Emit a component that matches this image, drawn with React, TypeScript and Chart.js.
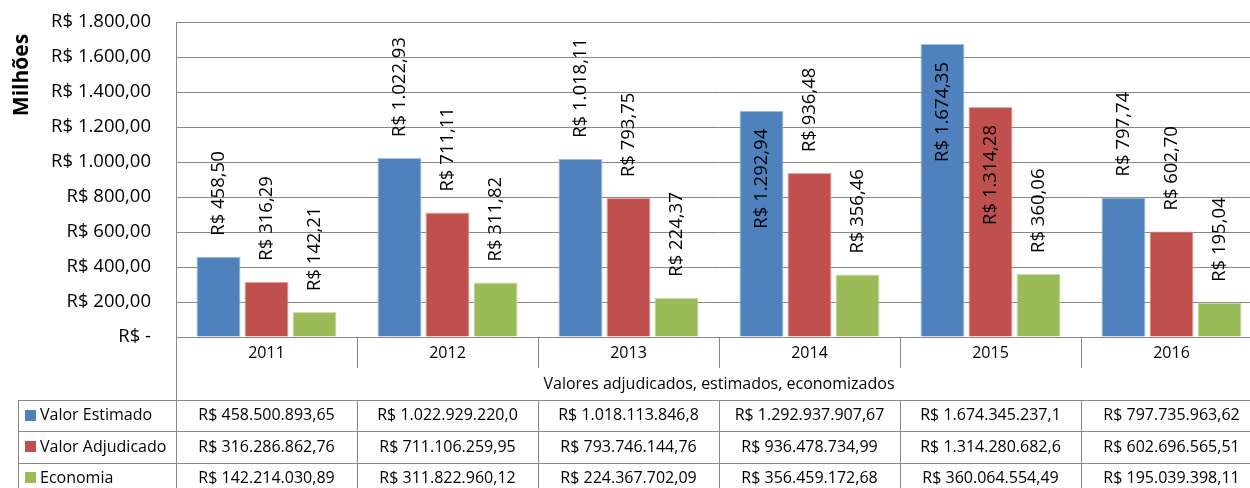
import React, { useEffect, useRef } from "react";
import { Chart, registerables } from "chart.js";

Chart.register(...registerables);

// ---------- DATA ----------
const years = ["2011", "2012", "2013", "2014", "2015", "2016"];
const seriesNames = ["Valor Estimado", "Valor Adjudicado", "Economia"];
// values in millions of R$
const valorEstimado = [458.5, 1022.93, 1018.11, 1292.94, 1674.35, 797.74];
const valorAdjudicado = [316.29, 711.11, 793.75, 936.48, 1314.28, 602.7];
const economia = [142.21, 311.82, 224.37, 356.46, 360.06, 195.04];
// data-table texts (as displayed)
const tableEstimado = [
  "R$ 458.500.893,65",
  "R$ 1.022.929.220,0",
  "R$ 1.018.113.846,8",
  "R$ 1.292.937.907,67",
  "R$ 1.674.345.237,1",
  "R$ 797.735.963,62",
];
const tableAdjudicado = [
  "R$ 316.286.862,76",
  "R$ 711.106.259,95",
  "R$ 793.746.144,76",
  "R$ 936.478.734,99",
  "R$ 1.314.280.682,6",
  "R$ 602.696.565,51",
];
const tableEconomia = [
  "R$ 142.214.030,89",
  "R$ 311.822.960,12",
  "R$ 224.367.702,09",
  "R$ 356.459.172,68",
  "R$ 360.064.554,49",
  "R$ 195.039.398,11",
];
const yMax = 1800;
const yStep = 200;
const yTitle = "Milhões";
const xTitle = "Valores adjudicados, estimados, economizados";

// ---------- STYLE ----------
const colors = ["#4F81BD", "#C0504D", "#9BBB59"];
const borderColors = ["#A9C1DF", "#DFA9A8", "#CCDDAD"];
const gridColor = "#888888";
const FONT = '"Open Sans", "Noto Sans", sans-serif';

function fmtBR(v: number): string {
  const [i, d] = v.toFixed(2).split(".");
  return i.replace(/\B(?=(\d{3})+(?!\d))/g, ".") + "," + d;
}

const customPlugin = {
  id: "customDraw",
  afterDatasetsDraw(chart: any) {
    const ctx: CanvasRenderingContext2D = chart.ctx;
    const area = chart.chartArea;
    ctx.save();
    ctx.font = `18.5px ${FONT}`;
    ctx.fillStyle = "#000";
    ctx.textBaseline = "middle";
    chart.data.datasets.forEach((ds: any, di: number) => {
      const meta = chart.getDatasetMeta(di);
      meta.data.forEach((bar: any, i: number) => {
        const v = ds.data[i] as number;
        const text = "R$ " + fmtBR(v);
        const w = ctx.measureText(text).width;
        const { x, y } = bar.getProps(["x", "y"], true);
        const gapOut = 21;
        const gapIn = 18;
        ctx.save();
        if (y - gapOut - w >= area.top) {
          ctx.translate(x, y - gapOut);
          ctx.rotate(-Math.PI / 2);
          ctx.textAlign = "left";
        } else {
          ctx.translate(x, y + gapIn);
          ctx.rotate(-Math.PI / 2);
          ctx.textAlign = "right";
        }
        ctx.fillText(text, 0, 0);
        ctx.restore();
      });
    });
    ctx.restore();
  },
  afterDraw(chart: any) {
    const ctx: CanvasRenderingContext2D = chart.ctx;
    const area = chart.chartArea;
    const left = area.left;
    const right = area.right;
    const n = years.length;
    const colW = (right - left) / n;
    const px = (v: number) => Math.round(v) + 0.5;

    ctx.save();
    // y title
    ctx.save();
    ctx.translate(22, 75);
    ctx.rotate(-Math.PI / 2);
    ctx.font = `bold 21px ${FONT}`;
    ctx.fillStyle = "#000";
    ctx.textAlign = "center";
    ctx.textBaseline = "middle";
    ctx.fillText(yTitle, 0, 0);
    ctx.restore();

    ctx.strokeStyle = gridColor;
    ctx.lineWidth = 1;
    const yearTop = area.bottom;
    const yearBot = 368;
    const tableTop = 400;
    const rowH = 31.3;
    const tableLeft = 18;
    const rows = [tableEstimado, tableAdjudicado, tableEconomia];
    const tableBot = tableTop + rowH * rows.length;

    ctx.beginPath();
    // axis line extension
    ctx.moveTo(px(left), area.bottom);
    ctx.lineTo(px(left), tableBot);
    // year dividers
    for (let k = 1; k <= n; k++) {
      const xx = px(left + k * colW);
      ctx.moveTo(xx, yearTop);
      ctx.lineTo(xx, yearBot);
    }
    // table horizontal lines
    for (let r = 0; r <= rows.length; r++) {
      const yy = px(tableTop + r * rowH);
      ctx.moveTo(tableLeft, yy);
      ctx.lineTo(right, yy);
    }
    // table verticals
    ctx.moveTo(px(tableLeft), tableTop);
    ctx.lineTo(px(tableLeft), tableBot);
    for (let k = 1; k <= n; k++) {
      const xx = px(left + k * colW);
      ctx.moveTo(xx, tableTop);
      ctx.lineTo(xx, tableBot);
    }
    ctx.stroke();

    ctx.fillStyle = "#000";
    ctx.font = `16px ${FONT}`;
    ctx.textAlign = "center";
    ctx.textBaseline = "middle";
    years.forEach((yr, i) => {
      ctx.fillText(yr, left + (i + 0.5) * colW, 353);
    });
    ctx.fillText(xTitle, (left + right) / 2, 384);

    rows.forEach((row, r) => {
      const cy = tableTop + (r + 0.5) * rowH;
      row.forEach((t, i) => {
        ctx.fillStyle = "#000";
        ctx.textAlign = "center";
        ctx.fillText(t, left + (i + 0.5) * colW, cy);
      });
      ctx.fillStyle = colors[r];
      ctx.fillRect(25, Math.round(cy - 6), 11, 11);
      ctx.fillStyle = "#000";
      ctx.textAlign = "left";
      ctx.fillText(seriesNames[r], 40, cy);
    });
    ctx.restore();
  },
};

export default function App() {
  const ref = useRef<HTMLCanvasElement | null>(null);
  useEffect(() => {
    document.body.style.margin = "0";
    if (!ref.current) return;
    const chart = new Chart(ref.current, {
      type: "bar",
      data: {
        labels: years,
        datasets: [valorEstimado, valorAdjudicado, economia].map((d, i) => ({
          label: seriesNames[i],
          data: d,
          backgroundColor: colors[i],
          borderColor: borderColors[i],
          borderWidth: 1,
          categoryPercentage: 0.796,
          barPercentage: 0.917,
        })),
      },
      options: {
        responsive: false,
        animation: false,
        devicePixelRatio: 1,
        layout: { padding: { left: 0, right: 8, top: 22, bottom: 151 } },
        plugins: {
          legend: { display: false },
          tooltip: { enabled: false },
          title: { display: false },
        },
        scales: {
          x: {
            display: false,
            offset: true,
          },
          y: {
            min: 0,
            max: yMax,
            ticks: {
              stepSize: yStep,
              padding: 25,
              color: "#000",
              font: { family: FONT, size: 18.5 },
              callback: (v: any) => (Number(v) === 0 ? "R$ -" : "R$ " + fmtBR(Number(v))),
            },
            grid: { color: gridColor, drawTicks: false, lineWidth: 1 },
            border: { color: gridColor, width: 1 },
            afterFit: (s: any) => {
              s.width = 176;
              s.paddingTop = 0;
              s.paddingBottom = 0;
            },
          },
        },
      },
      plugins: [customPlugin],
    });
    return () => chart.destroy();
  }, []);
  return (
    <div style={{ width: 1250, height: 488, overflow: "hidden", background: "#fff" }}>
      <canvas ref={ref} width={1270} height={488} style={{ display: "block" }} />
    </div>
  );
}
